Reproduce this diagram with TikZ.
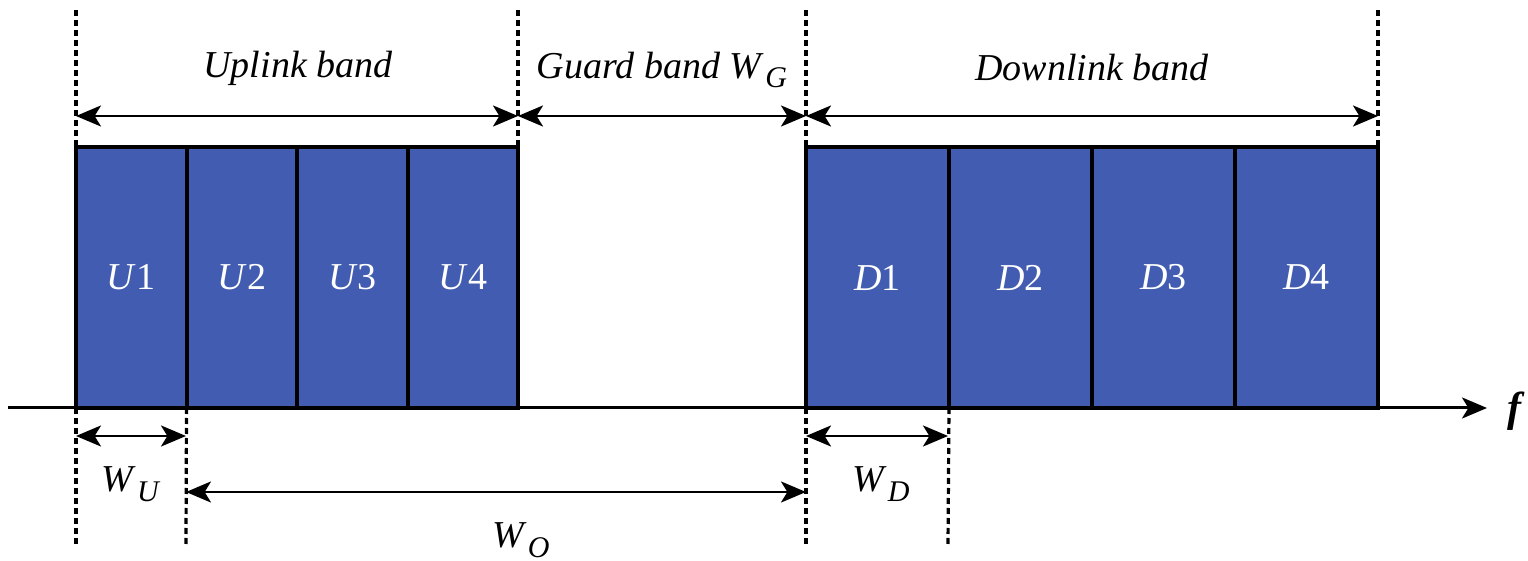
\documentclass[tikz,border=0pt]{standalone}
\usepackage{fontspec}
\setmainfont{Liberation Serif}
\usetikzlibrary{arrows.meta}
\definecolor{bandblue}{HTML}{415CB0}
\newcommand\wsub[2]{\textit{#1}\kern0.5pt\raisebox{-0.55ex}{\fontsize{15}{15}\selectfont\textit{#2}}}
\tikzset{
  headtip/.tip={Stealth[length=12.5pt,width=10.5pt,inset=3.2pt]}
}
\begin{document}
\begin{tikzpicture}[x=0.5pt,y=-0.5pt,
  ubox/.style={draw=black, line width=2pt, fill=bandblue, text=white,
    minimum width=55.25pt, minimum height=130.5pt, inner sep=0pt, outer sep=0pt, anchor=north west,
    font=\rmfamily\fontsize{19}{22}\selectfont},
  dbox/.style={ubox, minimum width=71.5pt},
  guide/.style={line width=1.6pt, dash pattern=on 3pt off 2pt},
  dim/.style={line width=1.4pt, headtip-headtip},
  lbl/.style={inner sep=0pt, font=\rmfamily\fontsize{19}{22}\selectfont}]
\useasboundingbox (0,0) rectangle (1528,561);

% frequency axis
\coordinate (ax0) at (8,408);
\coordinate (ax1) at (1487,408);
\draw[line width=1.5pt, -headtip] (ax0) -- (ax1);
\node[lbl, font=\rmfamily\fontsize{21}{22}\selectfont\bfseries\itshape] (f) at (1514,411) {f};

% uplink and downlink sub-bands
\foreach \i in {1,...,4}{
  \node[ubox] (U\i) at ({76+(\i-1)*110.5},147) {\textit{U}\i};
  \node[dbox] (D\i) at ({806+(\i-1)*143},147) {\textit{D}\i};
}

% dotted guide lines
\coordinate (gA0) at (76,10);   \coordinate (gA1) at (76,545);
\coordinate (gB0) at (518,10);
\coordinate (gC0) at (806,10);  \coordinate (gC1) at (806,545);
\coordinate (gD0) at (1378,10);
\coordinate (gE1) at (186,545);
\coordinate (gF1) at (948,545);
\draw[guide] (gA0) -- (U1.north west);
\draw[guide] (U1.south west) -- (gA1);
\draw[guide] (gB0) -- (U4.north east);
\draw[guide] (gC0) -- (D1.north west);
\draw[guide] (D1.south west) -- (gC1);
\draw[guide] (gD0) -- (D4.north east);
\draw[guide] (U1.south east) -- (gE1);
\draw[guide] (D1.south east) -- (gF1);

% dimension arrows
\coordinate (a1) at (76,116);  \coordinate (a2) at (518,116);
\coordinate (a3) at (806,116); \coordinate (a4) at (1378,116);
\coordinate (b1) at (76,436);  \coordinate (b2) at (186,436);
\coordinate (b3) at (806,436); \coordinate (b4) at (948,436);
\coordinate (c1) at (186,492); \coordinate (c2) at (806,492);
\draw[dim] (a1) -- (a2);
\draw[dim] (a2) -- (a3);
\draw[dim] (a3) -- (a4);
\draw[dim] (b1) -- (b2);
\draw[dim] (b3) -- (b4);
\draw[dim] (c1) -- (c2);

% labels
\node[lbl] (tup) at (298,68) {\textit{Uplink band}};
\node[lbl] (tgd) at (662,70) {\textit{Guard band} \wsub{W}{G}};
\node[lbl] (tdn) at (1092,68) {\textit{Downlink band}};
\node[lbl] (twu) at (131,484) {\wsub{W}{U}};
\node[lbl] (two) at (521,540) {\wsub{W}{O}};
\node[lbl] (twd) at (881,484) {\wsub{W}{D}};
\end{tikzpicture}
\end{document}
